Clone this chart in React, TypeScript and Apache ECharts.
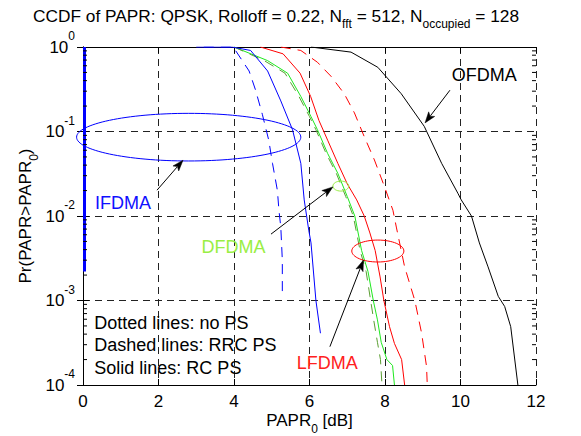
import React, { useEffect, useRef } from "react";
import * as echarts from "echarts";

const FONT = "'Liberation Sans', Arial, Helvetica, sans-serif";

// x ticks
const X_MIN = 0;
const X_MAX = 12;
const X_STEP = 2;
const Y_MIN = 0.0001;
const Y_MAX = 1;

// IFDMA
const ifdmaNoPS: [number, number][] = [[0.04, 1], [0.04, 0.0022]];
const ifdmaRRC: [number, number][] = [
  [3.2, 1], [3.98, 1], [4.04, 0.91], [4.4, 0.52], [4.57, 0.31], [4.75, 0.16], [4.92, 0.079],
  [5.02, 0.042], [5.15, 0.02], [5.19, 0.0117], [5.24, 0.0074], [5.28, 0.003], [5.28, 0.00112],
];
const ifdmaRC: [number, number][] = [
  [3.0, 1], [3.95, 1], [4.44, 0.91], [4.89, 0.52], [5.24, 0.23], [5.55, 0.105], [5.77, 0.042],
  [5.86, 0.0155], [5.98, 0.0068], [6.04, 0.0048], [6.17, 0.001], [6.29, 0.00041],
];
// DFDMA
const dfdmaRRC: [number, number][] = [
  [4.0, 1], [4.8, 0.69], [5.35, 0.49], [5.72, 0.26], [6.0, 0.15], [6.17, 0.105], [6.44, 0.055],
  [6.71, 0.032], [6.96, 0.017], [7.16, 0.01], [7.34, 0.0039], [7.5, 0.0022], [7.62, 0.001],
  [7.7, 0.00059], [7.8, 0.00032], [7.88, 0.0002], [7.92, 0.0001],
];
const dfdmaRC: [number, number][] = [
  [4.0, 1], [4.89, 0.69], [5.42, 0.49], [5.77, 0.26], [6.04, 0.15], [6.21, 0.105], [6.48, 0.055],
  [6.75, 0.032], [7.0, 0.017], [7.2, 0.01], [7.38, 0.0039], [7.55, 0.0022], [7.69, 0.001],
  [7.8, 0.00059], [7.9, 0.00032], [8.05, 0.0002], [8.2, 0.00017], [8.25, 0.0001],
];
// LFDMA
const lfdmaRRC: [number, number][] = [
  [5.24, 1], [5.77, 0.91], [6.21, 0.66], [6.57, 0.45], [6.92, 0.28], [7.19, 0.166], [7.45, 0.087],
  [7.72, 0.046], [7.99, 0.022], [8.21, 0.0117], [8.3, 0.0074], [8.52, 0.0025], [8.79, 0.001],
  [8.97, 0.00041], [9.1, 0.000166], [9.12, 0.0001],
];
const lfdmaRC: [number, number][] = [
  [4.7, 1], [5.3, 0.83], [5.75, 0.49], [6.03, 0.26], [6.25, 0.135], [6.48, 0.079], [6.75, 0.042],
  [7.0, 0.024], [7.25, 0.0155], [7.45, 0.01], [7.6, 0.0063], [7.74, 0.0039], [7.87, 0.0019],
  [7.97, 0.001], [8.12, 0.00049], [8.25, 0.00031], [8.44, 0.0002], [8.52, 0.0001],
];
// OFDMA
const ofdma: [number, number][] = [
  [6.04, 1], [7.1, 0.87], [7.81, 0.575], [8.43, 0.28], [9.04, 0.115], [9.5, 0.042], [9.93, 0.0186],
  [10.02, 0.0155], [10.29, 0.01], [10.5, 0.0048], [10.73, 0.0025], [11.0, 0.00112], [11.17, 0.00085],
  [11.33, 0.00049], [11.52, 0.0001],
];

// minor ticks of the log axis
const MINOR_MULT = [2, 3, 4, 5, 6, 7, 8, 9];
const DECADES = [0.0001, 0.001, 0.01, 0.1];

// annotations: ellipse [cx, cy, cornerX, cornerY, colorIdx]
const ANNO_COLORS = ["#0000ff", "#99ee44", "#ff0000", "#000000"];
const ellipses: number[][] = [
  [2.8, 0.0857, 5.77, 0.164, 0],
  [6.83, 0.0226, 7.04, 0.0259, 1],
  [7.81, 0.00385, 8.5, 0.00519, 2],
];
// arrows [x0, y0, x1, y1]
const arrows: number[][] = [
  [1.96, 0.0202, 2.65, 0.0458],
  [9.72, 0.308, 9.06, 0.1264],
  [4.98, 0.0061, 6.62, 0.0221],
  [6.54, 0.000284, 7.43, 0.00301],
];
// texts
const TEXTS = ["OFDMA", "IFDMA", "DFDMA", "LFDMA", "Dotted lines: no PS", "Dashed lines: RRC PS", "Solid lines: RC PS"];
const TEXT_COLORS = ["#000000", "#1010ff", "#99ee44", "#ff2020", "#000000", "#000000", "#000000"];
const textPos: number[][] = [
  [9.77, 0.462, 0],
  [0.32, 0.0143, 1],
  [3.14, 0.00432, 2],
  [5.66, 0.000181, 3],
  [0.3, 0.000547, 4],
  [0.3, 0.000298, 5],
  [0.3, 0.000161, 6],
];

export default function App() {
  const ref = useRef<HTMLDivElement>(null);
  useEffect(() => {
    document.body.style.margin = "0";
    if (!ref.current) return;
    const chart = echarts.init(ref.current, null, { renderer: "svg" });

    const minorData: number[][] = [];
    DECADES.forEach((d) => MINOR_MULT.forEach((m) => {
      minorData.push([X_MIN, m * d, 1]);
      minorData.push([X_MAX, m * d, -1]);
    }));

    const lineSeries = (data: [number, number][], color: string, dashed: boolean, width = 1) => ({
      type: "line",
      data,
      symbol: "none",
      showSymbol: false,
      silent: true,
      lineStyle: { color, width, type: dashed ? [10, 7] : "solid" },
      z: 3,
    });

    const baseAxisLine = { show: true, lineStyle: { color: "#000", width: 1 } };
    const splitDash = { show: true, lineStyle: { color: "#222", width: 1, type: [7, 5] } };

    chart.setOption({
      animation: false,
      backgroundColor: "#fff",
      title: {
        text: "CCDF of PAPR: QPSK, Rolloff = 0.22, N{s|fft} = 512, N{s|occupied} = 128",
        left: 33,
        top: 2,
        padding: 0,
        textStyle: {
          fontFamily: FONT,
          fontSize: 17.3,
          fontWeight: "normal",
          color: "#000",
          lineHeight: 28,
          rich: {
            s: { fontFamily: FONT, fontSize: 12, color: "#000", lineHeight: 12, verticalAlign: "bottom" },
          },
        },
      },
      grid: { left: 83, right: 45, top: 47, bottom: 51, containLabel: false, outerBoundsMode: "none" },
      xAxis: [
        {
          type: "value",
          min: X_MIN,
          max: X_MAX,
          interval: X_STEP,
          position: "bottom",
          axisLine: baseAxisLine,
          axisTick: { show: true, inside: true, length: 6, lineStyle: { color: "#000" } },
          axisLabel: { fontFamily: FONT, fontSize: 17, color: "#000", margin: 8 },
          splitLine: splitDash,
          name: "PAPR{s|0} [dB]",
          nameLocation: "middle",
          nameGap: 20,
          nameMoveOverlap: false,
          nameTextStyle: {
            fontFamily: FONT,
            fontSize: 17,
            color: "#000",
            lineHeight: 30,
            rich: { s: { fontFamily: FONT, fontSize: 12, color: "#000", lineHeight: 12, verticalAlign: "bottom" } },
          },
        },
        {
          type: "value",
          min: X_MIN,
          max: X_MAX,
          interval: X_STEP,
          position: "top",
          axisLine: baseAxisLine,
          axisTick: { show: true, inside: true, length: 6, lineStyle: { color: "#000" } },
          axisLabel: { show: false },
          splitLine: { show: false },
        },
      ],
      yAxis: [
        {
          type: "log",
          logBase: 10,
          min: Y_MIN,
          max: Y_MAX,
          splitNumber: 4,
          position: "left",
          axisLine: baseAxisLine,
          axisTick: { show: true, inside: true, length: 6, lineStyle: { color: "#000" } },
          axisLabel: {
            margin: 8,
            formatter: (v: number) => "{b|10}{s|" + Math.round(Math.log10(v)) + "}",
            rich: {
              b: { fontFamily: FONT, fontSize: 17, color: "#000", lineHeight: 34 },
              s: { fontFamily: FONT, fontSize: 12, color: "#000", lineHeight: 12, verticalAlign: "top" },
            },
          },
          splitLine: splitDash,
          name: "Pr(PAPR>PAPR{s|0})",
          nameLocation: "middle",
          nameGap: 43,
          nameRotate: 90,
          nameMoveOverlap: false,
          nameTextStyle: {
            fontFamily: FONT,
            fontSize: 17,
            color: "#000",
            lineHeight: 30,
            rich: { s: { fontFamily: FONT, fontSize: 12, color: "#000", lineHeight: 12, verticalAlign: "bottom" } },
          },
        },
        {
          type: "log",
          logBase: 10,
          min: Y_MIN,
          max: Y_MAX,
          splitNumber: 4,
          position: "right",
          axisLine: baseAxisLine,
          axisTick: { show: true, inside: true, length: 6, lineStyle: { color: "#000" } },
          axisLabel: { show: false },
          splitLine: { show: false },
        },
      ],
      series: [
        lineSeries(ofdma, "#000000", false),
        lineSeries(lfdmaRRC, "#ff0000", true),
        lineSeries(lfdmaRC, "#ff0000", false),
        lineSeries(dfdmaRC, "#1ee81e", false),
        lineSeries(dfdmaRRC, "#5a9e32", true),
        lineSeries(ifdmaRRC, "#0000ff", true),
        lineSeries(ifdmaRC, "#0000ff", false),
        lineSeries(ifdmaNoPS, "#0000ff", false, 3),
        {
          type: "custom",
          silent: true,
          clip: false,
          z: 5,
          data: minorData,
          renderItem: (_p: any, api: any) => {
            const p = api.coord([api.value(0), api.value(1)]);
            const dir = api.value(2);
            return {
              type: "line",
              shape: { x1: p[0], y1: p[1], x2: p[0] + dir * 4, y2: p[1] },
              style: { stroke: "#000", lineWidth: 1 },
            };
          },
        },
        {
          type: "custom",
          silent: true,
          clip: false,
          z: 6,
          data: ellipses,
          renderItem: (_p: any, api: any) => {
            const c = api.coord([api.value(0), api.value(1)]);
            const k = api.coord([api.value(2), api.value(3)]);
            return {
              type: "ellipse",
              shape: { cx: c[0], cy: c[1], rx: Math.abs(k[0] - c[0]), ry: Math.abs(k[1] - c[1]) },
              style: { fill: "none", stroke: ANNO_COLORS[api.value(4)], lineWidth: 1 },
            };
          },
        },
        {
          type: "custom",
          silent: true,
          clip: false,
          z: 6,
          data: arrows,
          renderItem: (_p: any, api: any) => {
            const a = api.coord([api.value(0), api.value(1)]);
            const b = api.coord([api.value(2), api.value(3)]);
            const dx = b[0] - a[0];
            const dy = b[1] - a[1];
            const len = Math.sqrt(dx * dx + dy * dy);
            const ux = dx / len;
            const uy = dy / len;
            const L = 11;
            const W = 3.8;
            const bx = b[0] - ux * L;
            const by = b[1] - uy * L;
            return {
              type: "group",
              children: [
                {
                  type: "line",
                  shape: { x1: a[0], y1: a[1], x2: bx + ux * 2, y2: by + uy * 2 },
                  style: { stroke: "#000", lineWidth: 1 },
                },
                {
                  type: "polygon",
                  shape: {
                    points: [
                      [b[0], b[1]],
                      [bx - uy * W, by + ux * W],
                      [bx + ux * 2.5, by + uy * 2.5],
                      [bx + uy * W, by - ux * W],
                    ],
                  },
                  style: { fill: "#000", stroke: "#000", lineWidth: 0.5 },
                },
              ],
            };
          },
        },
        {
          type: "custom",
          silent: true,
          clip: false,
          z: 7,
          data: textPos,
          renderItem: (_p: any, api: any) => {
            const p = api.coord([api.value(0), api.value(1)]);
            const i = api.value(2);
            return {
              type: "text",
              x: p[0],
              y: p[1],
              style: {
                text: TEXTS[i],
                fill: TEXT_COLORS[i],
                fontSize: 18,
                fontFamily: FONT,
                align: "left",
                textAlign: "left",
                verticalAlign: "middle",
                textVerticalAlign: "middle",
              },
            };
          },
        },
      ],
    });
    return () => chart.dispose();
  }, []);
  return <div ref={ref} style={{ width: 581, height: 436 }} />;
}
